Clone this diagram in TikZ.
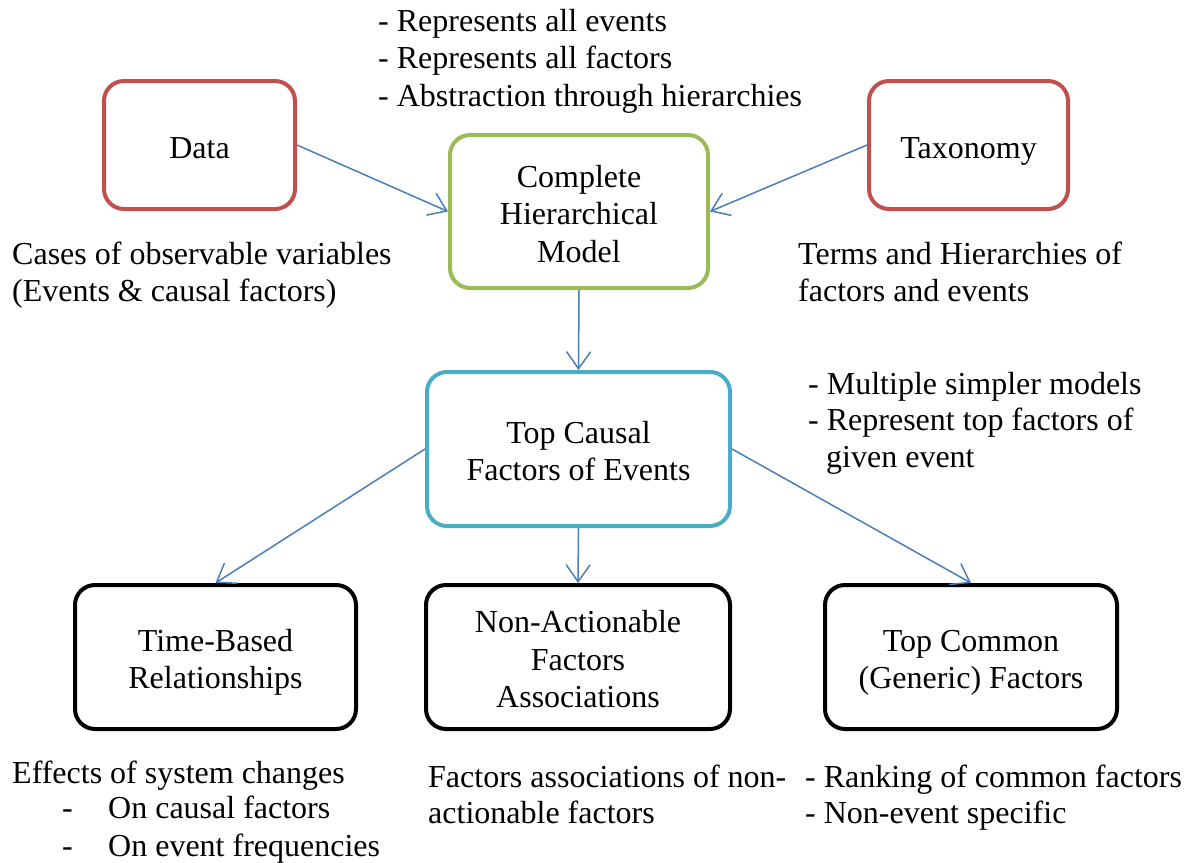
\documentclass[tikz,border=0pt]{standalone}
\usepackage{fontspec}
\setmainfont{Liberation Serif}
\usetikzlibrary{arrows.meta}
\definecolor{boxred}{HTML}{C0504D}
\definecolor{boxgreen}{HTML}{9BBB59}
\definecolor{boxblue}{HTML}{4BACC6}
\definecolor{linkblue}{HTML}{4A7EBB}
% fixed top and bottom extents so box labels sit at the same height
\newcommand{\topstrut}{\rule{0pt}{34pt}}
\newcommand{\botstrut}{\rule[-8pt]{0pt}{8pt}}
\begin{document}
\begin{tikzpicture}[x=1pt,y=-1pt,
  every node/.style={font=\fontsize{32}{37.5}\selectfont, inner sep=0pt},
  stagebox/.style={draw, line width=4pt, rounded corners=20pt, fill=white, align=center},
  sourcebox/.style={stagebox, draw=boxred},
  modelbox/.style={stagebox, draw=boxgreen},
  topbox/.style={stagebox, draw=boxblue},
  resultbox/.style={stagebox, draw=black},
  link/.style={draw=linkblue, line width=1.5pt, -{Straight Barb[length=17pt,width=24pt,line width=1.5pt]}},
  note/.style={anchor=base west}
]
\useasboundingbox (0,0) rectangle (1196,862);

% sources and the full model
\node[sourcebox, minimum width=191pt, minimum height=128pt] (data) at (199.5,145) {\topstrut Data\botstrut};
\node[sourcebox, minimum width=199pt, minimum height=128pt] (tax) at (968.5,145) {\topstrut Taxonomy\botstrut};
\node[modelbox, minimum width=258pt, minimum height=153pt] (chm) at (579,211.5) {\topstrut Complete\\Hierarchical\\Model\botstrut};

% reduced model
\node[topbox, minimum width=303pt, minimum height=154pt] (top) at (578.5,449) {\topstrut Top Causal\\Factors of Events\botstrut};

% analyses
\node[resultbox, minimum width=281pt, minimum height=144pt] (time) at (215.5,657) {\topstrut Time-Based\\Relationships\botstrut};
\node[resultbox, minimum width=304pt, minimum height=144pt] (nonact) at (578,657) {\topstrut Non-Actionable\\Factors\\Associations\botstrut};
\node[resultbox, minimum width=292pt, minimum height=144pt] (common) at (971,657) {\topstrut Top Common\\(Generic) Factors\botstrut};

% connectors
\draw[link] (data.east) -- (chm.west);
\draw[link] (tax.west) -- (chm.east);
\draw[link] (chm.south) -- (top.north);
\draw[link] (top.west) -- (time.north);
\draw[link] (top.south) -- (nonact.north);
\draw[link] (top.east) -- (common.north);

% annotations
\node[note] (m1) at (378,31) {- Represents all events};
\node[note] (m2) at (378,68.5) {- Represents all factors};
\node[note] (m3) at (378,106) {- Abstraction through hierarchies};

\node[note] (d1) at (12,264) {Cases of observable variables};
\node[note] (d2) at (12,301) {(Events \& causal factors)};

\node[note] (t1) at (798,264) {Terms and Hierarchies of};
\node[note] (t2) at (798,301) {factors and events};

\node[note] (s1) at (808,394) {- Multiple simpler models};
\node[note] (s2) at (808,430) {- Represent top factors of};
\node[note] (s3) at (826,467) {given event};

\node[note] (e1) at (12,783) {Effects of system changes};
\node[note] (e2a) at (62,818) {-};
\node[note] (e2) at (108,818) {On causal factors};
\node[note] (e3a) at (62,856) {-};
\node[note] (e3) at (108,856) {On event frequencies};

\node[note] (n1) at (428,787) {Factors associations of non-};
\node[note] (n2) at (428,823) {actionable factors};

\node[note] (c1) at (805,787) {- Ranking of common factors};
\node[note] (c2) at (805,823) {- Non-event specific};
\end{tikzpicture}
\end{document}
